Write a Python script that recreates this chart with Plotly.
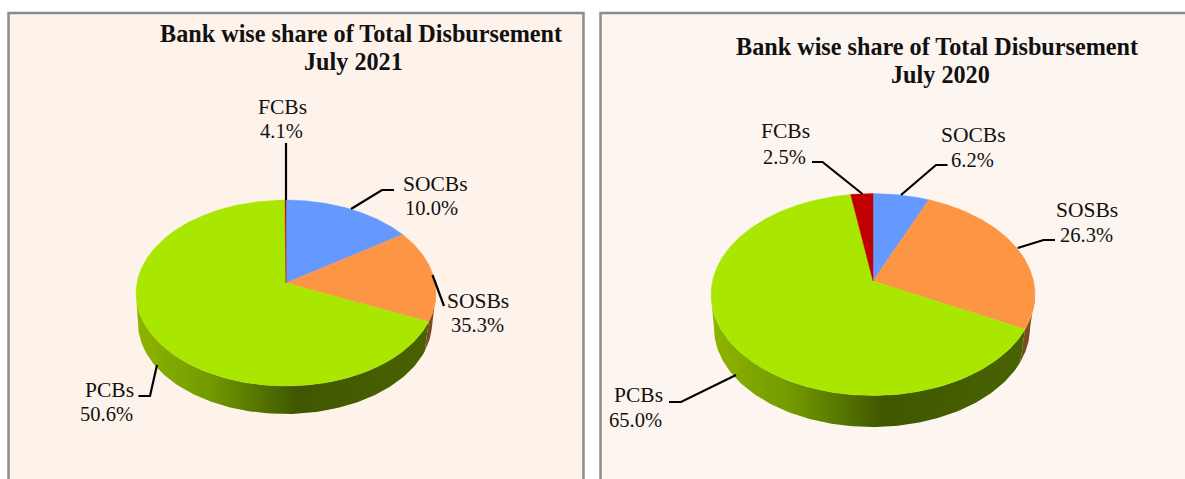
import numpy as np
import plotly.graph_objects as go

# ---- data ----
categories = ["SOCBs", "SOSBs", "PCBs", "FCBs"]
labels_2021 = [10.0, 35.3, 50.6, 4.1]
labels_2020 = [6.2, 26.3, 65.0, 2.5]
# slice sizes as actually drawn in the picture (% of the turn)
drawn_2021 = [14.2, 15.8, 69.9, 0.1]
drawn_2020 = [5.6, 25.0, 67.2, 2.2]
title_line = "Bank wise share of Total Disbursement"
periods = ["July 2021", "July 2020"]

# ---- style ----
W, H = 1185, 479
COLORS = ["#6699FF", "#FD9644", "#A9E600", "#C00000"]
FONT = "Liberation Serif"
BORDER = "#8C8C8C"
SIDE_SCALE = [[0, "#8FB500"], [0.25, "#739A00"], [0.55, "#405700"], [1, "#496300"]]

fig = go.Figure()


def pt(g, phi, bottom=False):
    a = np.radians(phi)
    if bottom:
        return g["cx2"] + g["rx2"] * np.sin(a), g["cy2"] - g["ry2"] * np.cos(a)
    return g["cx"] + g["rx"] * np.sin(a), g["cy"] - g["ry"] * np.cos(a)


def side(g, p0, p1, **kw):
    phi = np.linspace(p0, p1, 120)
    xt, yt = pt(g, phi)
    xb, yb = pt(g, phi[::-1], True)
    fig.add_trace(go.Scatter(x=np.r_[xt, xb, xt[0]], y=np.r_[yt, yb, yt[0]],
                             mode="lines", fill="toself", line=dict(width=0),
                             hoverinfo="skip", showlegend=False, **kw))


def pie(g, drawn):
    ends = np.cumsum(drawn) / 100 * 360
    starts = np.r_[0, ends[:-1]]
    # side wall
    side(g, 90, ends[1], fillcolor="#7A4A20")
    side(g, ends[1], 270, fillgradient=dict(type="horizontal", colorscale=SIDE_SCALE))
    # top face
    for s, e, c, name in zip(starts, ends, COLORS, categories):
        phi = np.linspace(s, e, max(int(e - s) * 2, 2))
        x, y = pt(g, phi)
        fig.add_trace(go.Scatter(x=np.r_[g["cx"], x, g["cx"]], y=np.r_[g["ay"], y, g["ay"]],
                                 mode="lines", fill="toself", fillcolor=c,
                                 line=dict(width=0.4, color=c), name=name,
                                 hoverinfo="name", showlegend=False))


GEOM = [
    dict(cx=286, cy=293, rx=150, ry=93, ay=283, cx2=285, rx2=147, ry2=91, cy2=323),
    dict(cx=873, cy=294.5, rx=162, ry=101, ay=281, cx2=872, rx2=158, ry2=99, cy2=328),
]
pie(GEOM[0], drawn_2021)
pie(GEOM[1], drawn_2020)

# ---- panels ----
shapes = [
    dict(type="rect", x0=8.5, x1=583.5, y0=13, y1=H + 5, fillcolor="#FEF3EB",
         line=dict(color=BORDER, width=2.5), layer="below"),
    dict(type="rect", x0=600.5, x1=W + 5, y0=13, y1=H + 5, fillcolor="#FDF5EF",
         line=dict(color=BORDER, width=2.5), layer="below"),
]
LEADERS = [
    "M286,143 L286,200", "M394,190 L382,190 L351,209", "M432.5,275 L444,306",
    "M138.5,396 L150,396 L157,365",
    "M812,162 L822.5,162 L862.5,194", "M947.5,165 L936,165 L901,195",
    "M1055,240 L1043.5,240 L1017.7,248", "M669,402 L681,402 L736,375",
]
for p in LEADERS:
    shapes.append(dict(type="path", path=p, line=dict(color="black", width=2.2), layer="above"))

# ---- text ----
ann = []


def text(x, y, s, size=21.5, **kw):
    ann.append(dict(x=x, y=y, text=s, showarrow=False, xanchor="center", yanchor="middle",
                    font=dict(family=FONT, size=size, color="#111111"), **kw))


text(361, 33, f"<b>{title_line}</b>", size=24.2)
text(353, 61, f"<b>{periods[0]}</b>", size=24.2)
text(937, 46, f"<b>{title_line}</b>", size=24.2)
text(940, 74, f"<b>{periods[1]}</b>", size=24.2)

POS_2021 = {"SOCBs": ((435, 184), (431.5, 208)), "SOSBs": ((478, 301), (477, 325)),
            "PCBs": ((109.5, 390), (106, 414)), "FCBs": ((282, 107), (281, 131))}
POS_2020 = {"SOCBs": ((973, 135), (972.5, 160)), "SOSBs": ((1087, 210), (1086, 235)),
            "PCBs": ((638, 395), (635, 420)), "FCBs": ((785, 131), (784, 157))}
for vals, pos in ((labels_2021, POS_2021), (labels_2020, POS_2020)):
    for name, v in zip(categories, vals):
        (x1, y1), (x2, y2) = pos[name]
        text(x1, y1, name)
        text(x2, y2, f"{v:.1f}%", size=20.5)

fig.update_layout(
    width=W, height=H, margin=dict(l=0, r=0, t=0, b=0),
    paper_bgcolor="white", plot_bgcolor="white", showlegend=False,
    xaxis=dict(range=[0, W], visible=False, fixedrange=True),
    yaxis=dict(range=[H, 0], visible=False, fixedrange=True),
    shapes=shapes, annotations=ann,
)
fig.write_html("out.html", config={"displayModeBar": False},
               post_script="document.body.style.margin='0';document.body.style.overflow='hidden';")
